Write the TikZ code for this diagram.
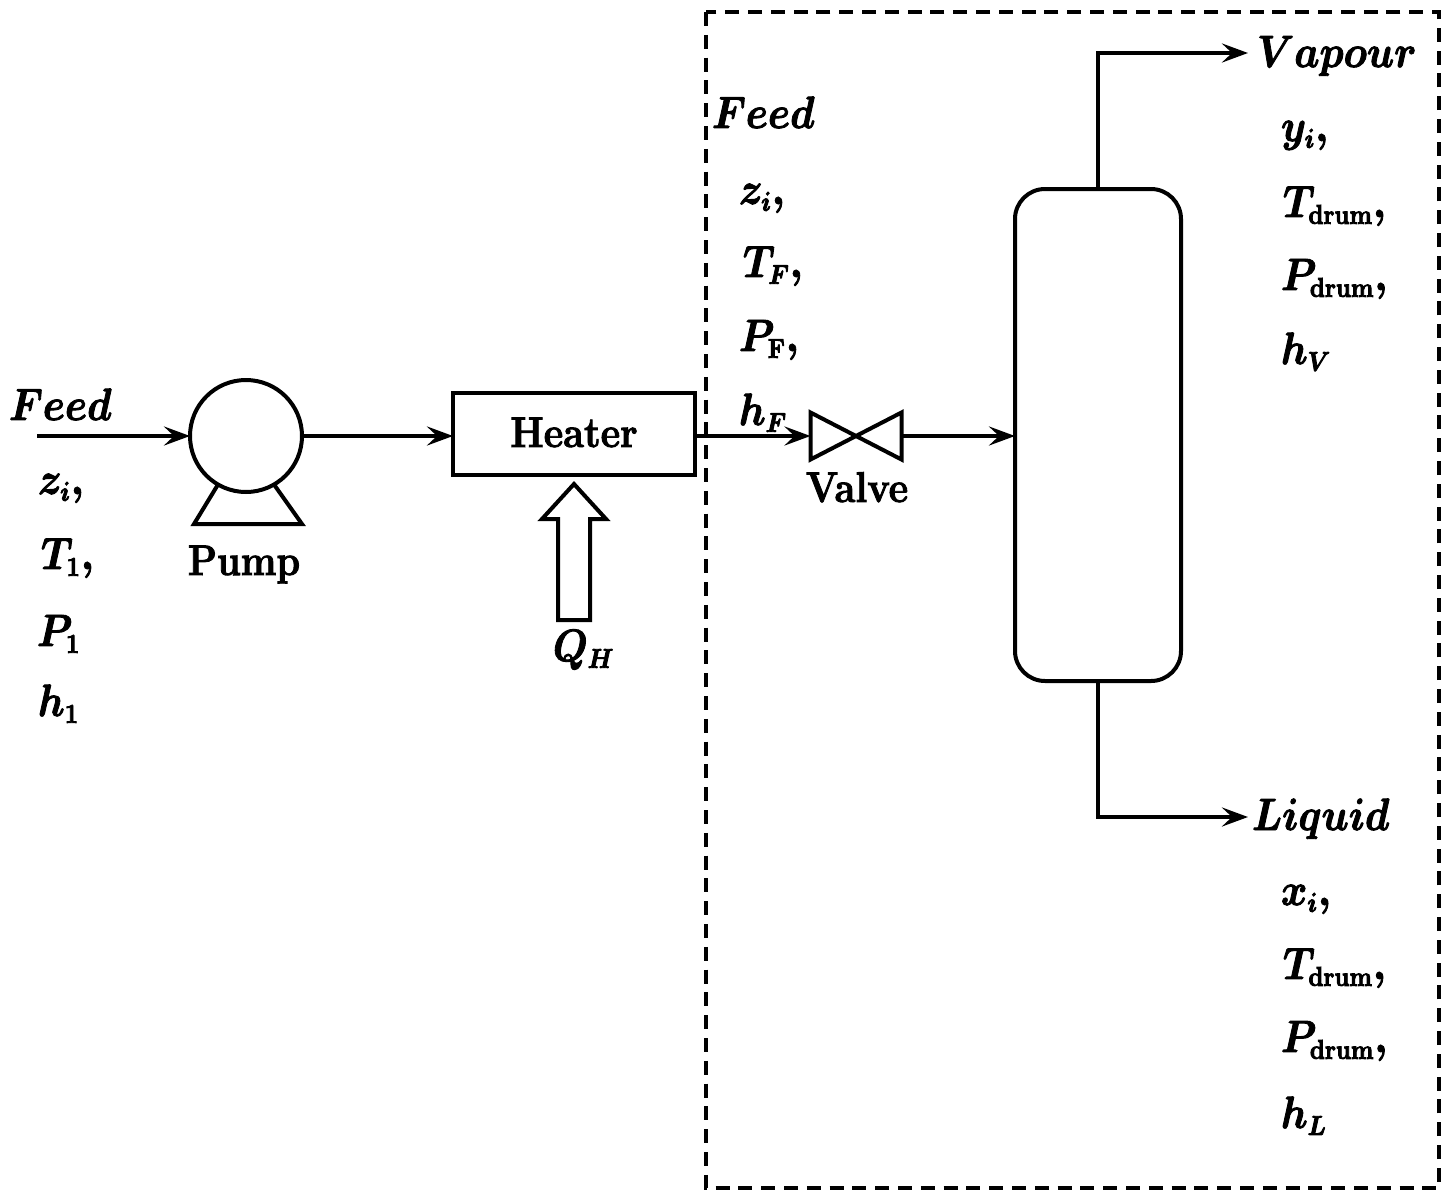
\RequirePackage{fix-cm}
\documentclass[tikz,border=0pt]{standalone}
\usepackage{amsmath}
\usepackage{graphicx}
\usetikzlibrary{arrows.meta}
\DeclareMathSizes{20}{20}{12}{10}
\tikzset{
  line/.style={line width=2pt},
  flow/.style={line, -{Stealth[length=13pt,width=9.5pt,inset=5pt]}},
  unit/.style={draw, line width=2pt, inner sep=0pt, outer sep=0pt},
  lab/.style={anchor=base west, inner sep=0pt, outer sep=0pt, font=\fontsize{20}{24}\selectfont\boldmath},
  word/.style={anchor=base, inner sep=0pt, outer sep=0pt, font=\fontsize{19}{23}\selectfont\bfseries},
  envelope/.style={line width=2pt, dash pattern=on 7pt off 4.4pt}
}
\newcommand{\rmsub}[1]{\text{\bfseries #1}}
\newcommand{\tall}[1]{\scalebox{1}[1.13]{\special{pdf:code 2 Tr 0.42 w}#1\special{pdf:code 0 Tr}}}
\begin{document}
\begin{tikzpicture}[x=0.5pt,y=-0.5pt]
\useasboundingbox (0,0) rectangle (1451,1189);
% envelope
\draw[envelope] (706,12) rectangle (1439,1188);
% units
\node[unit, circle, minimum size=56pt] (pump) at (246,436) {};
\coordinate (baseL) at (194,524);
\coordinate (baseR) at (302,524);
\draw[line, line join=miter] (pump.240) -- (baseL) -- (baseR) -- (pump.300);
\node[unit, rectangle, minimum width=121pt, minimum height=41pt] (heater) at (574,434) {};
\node[word] (heatertext) at (574,447) {\tall{Heater}};
\node[inner sep=0pt, outer sep=0pt, minimum width=45.5pt, minimum height=23.5pt] (valve) at (856,436) {};
\draw[line] (valve.north west) -- (valve.south east) -- (valve.north east) -- (valve.south west) -- cycle;
\node[unit, rectangle, rounded corners=15pt, minimum width=83pt, minimum height=246pt] (drum) at (1098,435) {};
% heat arrow
\node[inner sep=0pt, outer sep=0pt] (heattip) at (574,484) {};
\draw[line, line join=miter] (heattip.center) -- (606,519) -- (590,519) -- (590,620) -- (558,620) -- (558,519) -- (542,519) -- cycle;
% free ends
\coordinate (feedstart) at (37,436);
\coordinate (vapourend) at (1248,53);
\coordinate (liquidend) at (1248,817);
% connectors
\draw[flow] (feedstart) -- (pump.west);
\draw[flow] (pump.east) -- (pump.east -| heater.west);
\draw[flow] (valve.west -| heater.east) -- (valve.west);
\draw[flow] (valve.east) -- (valve.east -| drum.west);
\draw[flow] (drum.north) |- (vapourend);
\draw[flow] (drum.south) |- (liquidend);
% labels, left
\node[lab] (l1) at (9,420) {\tall{$Feed$}};
\node[lab] (l2) at (38,494) {\tall{$z_i,$}};
\node[lab] (l3) at (41,569) {\tall{$T_1,$}};
\node[lab] (l4) at (37,646) {\tall{$P_1$}};
\node[lab] (l5) at (38,716) {\tall{$h_1$}};
\node[word] (pumptext) at (244,575) {\tall{Pump}};
\node[lab] (q) at (553,661) {\tall{$Q_H$}};
% labels, middle
\node[lab] (m1) at (712,128) {\tall{$Feed$}};
\node[lab] (m2) at (739,204) {\tall{$z_i,$}};
\node[lab] (m3) at (743,277) {\tall{$T_F,$}};
\node[lab] (m4) at (739,351) {\tall{$P_{\rmsub{F}},$}};
\node[lab] (m5) at (739,425) {\tall{$h_F$}};
\node[word] (valvetext) at (857,502) {\tall{Valve}};
% labels, vapour
\node[lab] (v1) at (1257,67) {\tall{$Vapour$}};
\node[lab] (v2) at (1281,141) {\tall{$y_i,$}};
\node[lab] (v3) at (1283,217) {\tall{$T_{\rmsub{drum}},$}};
\node[lab] (v4) at (1281,290) {\tall{$P_{\rmsub{drum}},$}};
\node[lab] (v5) at (1281,364) {\tall{$h_V$}};
% labels, liquid
\node[lab] (q1) at (1252,830) {\tall{$Liquid$}};
\node[lab] (q2) at (1281,905) {\tall{$x_i,$}};
\node[lab] (q3) at (1283,979) {\tall{$T_{\rmsub{drum}},$}};
\node[lab] (q4) at (1281,1052) {\tall{$P_{\rmsub{drum}},$}};
\node[lab] (q5) at (1281,1128) {\tall{$h_L$}};
\end{tikzpicture}
\end{document}
